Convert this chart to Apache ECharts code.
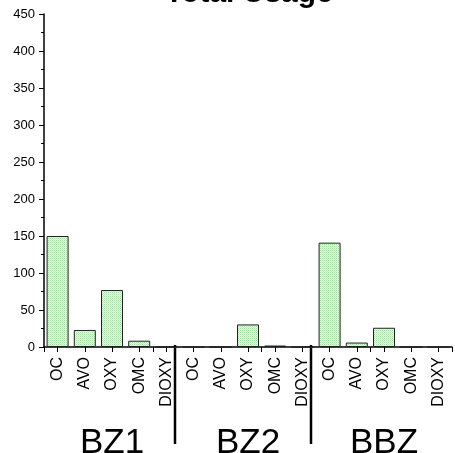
<!DOCTYPE html>
<html><head><meta charset="utf-8">
<script src="https://cdn.jsdelivr.net/npm/echarts@6/dist/echarts.min.js"></script>
<style>html,body{margin:0;padding:0;background:#fff}#c{width:455px;height:453px}</style>
</head><body><div id="c"></div>
<script>
const titleText = 'Total Usage';
const groups = ['BZ1', 'BZ2', 'BBZ'];
const compounds = ['OC', 'AVO', 'OXY', 'OMC', 'DIOXY'];
const valuesBZ1 = [150, 23, 77, 8.5, 0];
const valuesBZ2 = [0, 0, 30.5, 2, 0];
const valuesBBZ = [141, 6, 26, 0, 0];
const yTicks = [0, 50, 100, 150, 200, 250, 300, 350, 400, 450];

const allValues = [valuesBZ1, valuesBZ2, valuesBBZ];
const cats = [], vals = [];
groups.forEach((g, gi) => compounds.forEach((c, ci) => { cats.push(g + '|' + c); vals.push(allValues[gi][ci]); }));

function makePattern() {
  const cv = document.createElement('canvas');
  cv.width = 4; cv.height = 4;
  const ctx = cv.getContext('2d');
  ctx.fillStyle = '#e2fce2';
  ctx.fillRect(0, 0, 4, 4);
  ctx.fillStyle = '#96e996';
  ctx.fillRect(0, 0, 1, 1); ctx.fillRect(2, 2, 1, 1); ctx.fillRect(2, 0, 1, 1); ctx.fillRect(0, 2, 1, 1);
  ctx.fillStyle = '#bff3bf';
  ctx.fillRect(1, 1, 1, 1); ctx.fillRect(3, 3, 1, 1); ctx.fillRect(3, 1, 1, 1); ctx.fillRect(1, 3, 1, 1);
  return { image: cv, repeat: 'repeat' };
}

const font = '"Liberation Sans", Arial, sans-serif';
const chart = echarts.init(document.getElementById('c'), null, { renderer: 'canvas' });
chart.setOption({
  animation: false,
  title: { text: titleText, left: 160, top: -26, textStyle: { fontFamily: font, fontSize: 30, fontWeight: 'bold', color: '#000' } },
  grid: { left: 44, right: 3, top: 14, bottom: 106, containLabel: false, outerBoundsMode: 'none' },
  xAxis: [
    { type: 'category', data: cats, position: 'bottom',
      axisLine: { show: true, lineStyle: { color: '#000', width: 1.5 } },
      axisTick: { show: true, alignWithLabel: true, inside: false, length: 5, lineStyle: { color: '#000', width: 1 } },
      axisLabel: { rotate: 90, margin: 10, fontFamily: font, fontSize: 16, color: '#000', formatter: v => v.split('|')[1] } },
    { type: 'category', data: cats, position: 'bottom',
      axisLine: { show: false },
      axisTick: { show: true, length: 5, lineStyle: { color: '#000', width: 1 } },
      axisLabel: { show: false } },
    { type: 'category', data: groups, position: 'bottom', offset: 79,
      axisLine: { show: false }, axisTick: { show: false },
      axisLabel: { fontFamily: font, fontSize: 35, color: '#000', margin: 0 } }
  ],
  yAxis: {
    type: 'value', min: 0, max: 450, interval: 50,
    axisLine: { show: true, lineStyle: { color: '#000', width: 1.5 } },
    axisTick: { show: true, length: 5, lineStyle: { color: '#000' } },
    minorTick: { show: true, splitNumber: 2, length: 3, lineStyle: { color: '#000' } },
    splitLine: { show: false },
    axisLabel: { fontFamily: font, fontSize: 13, color: '#000', margin: 9,
      formatter: v => yTicks.indexOf(v) >= 0 ? String(v) : '' }
  },
  series: [{
    type: 'bar', data: vals, xAxisIndex: 0, barWidth: 22,
    itemStyle: { color: makePattern(), borderColor: '#222', borderWidth: 1 }
  }]
});

const sepLines = [];
[5, 10].forEach(i => {
  const a = chart.convertToPixel({ xAxisIndex: 0 }, i - 1);
  const b = chart.convertToPixel({ xAxisIndex: 0 }, i);
  const x = (a + b) / 2 - 5;
  const y0 = chart.convertToPixel({ yAxisIndex: 0 }, 0);
  sepLines.push({ type: 'line', shape: { x1: x, y1: y0 - 2, x2: x, y2: y0 + 97 }, style: { stroke: '#000', lineWidth: 2.5 } });
});
chart.setOption({ graphic: sepLines });
</script>
</body></html>
